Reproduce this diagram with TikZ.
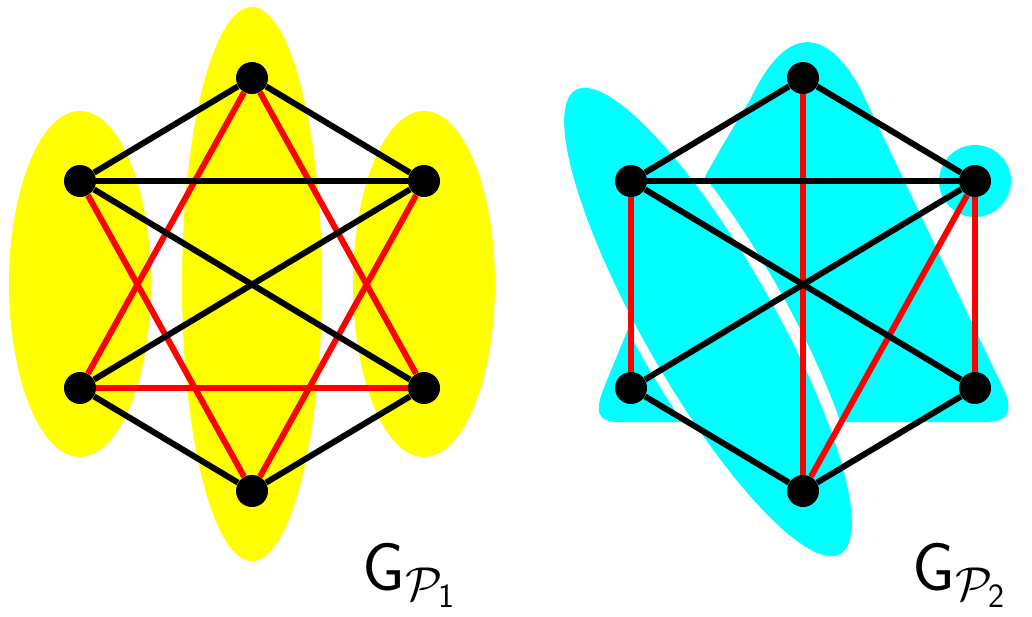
\RequirePackage{fix-cm}
\documentclass[tikz,border=0pt]{standalone}
\usepackage{fontspec}
\definecolor{yel}{RGB}{255,255,0}
\definecolor{cya}{RGB}{0,255,255}
\definecolor{rd}{RGB}{255,0,0}
\tikzset{
  vtx/.style={circle, fill=black, inner sep=0pt, minimum size=16pt},
  bedge/.style={line width=3pt, black},
  redge/.style={line width=3pt, rd},
  glabel/.style={anchor=base west, inner sep=0pt, font=\fontsize{34}{40}\selectfont}
}
\begin{document}
\begin{tikzpicture}[x=0.5pt, y=-0.5pt]
\fill[white] (0,0) rectangle (1032,616);
\useasboundingbox (0,0) rectangle (1032,616);
% ---------- left: yellow parts ----------
\fill[yel] (80,284) ellipse [x radius=35.5pt, y radius=86.5pt];
\fill[yel] (252,284) ellipse [x radius=35pt, y radius=138.5pt];
\fill[yel] (424,284) ellipse [x radius=35.5pt, y radius=86.5pt];
% ---------- right: cyan parts ----------
\fill[cya] (620,422) -- (985,422) .. controls (1010,422) and (1012,410) .. (1005,392)
  -- (860,88) .. controls (825,25) and (785,25) .. (750,100)
  .. controls (725,140) and (690,200) .. (640,300)
  -- (605,385) .. controls (595,410) and (595,422) .. (620,422) -- cycle;
\begin{scope}[shift={(710,322)}, rotate=-60.3]
  \fill[white] (0,0) ellipse [x radius=139pt, y radius=38pt];
\end{scope}
\begin{scope}[shift={(708,322)}, rotate=-60.3]
  \fill[cya] (0,0) ellipse [x radius=133.5pt, y radius=32.5pt];
\end{scope}
\fill[cya] (975,181) circle [radius=18pt];
% ---------- left graph ----------
\node[vtx] (aT)  at (252,78)  {};
\node[vtx] (aL)  at (80,181)  {};
\node[vtx] (aR)  at (424,181) {};
\node[vtx] (aBL) at (80,388)  {};
\node[vtx] (aBR) at (424,388) {};
\node[vtx] (aB)  at (252,491) {};
\draw[redge] (aT) -- (aBL);
\draw[redge] (aT) -- (aBR);
\draw[redge] (aL) -- (aB);
\draw[redge] (aR) -- (aB);
\draw[redge] (aBL) -- (aBR);
\draw[bedge] (aT) -- (aL);
\draw[bedge] (aT) -- (aR);
\draw[bedge] (aL) -- (aR);
\draw[bedge] (aL) -- (aBR);
\draw[bedge] (aR) -- (aBL);
\draw[bedge] (aBL) -- (aB);
\draw[bedge] (aBR) -- (aB);
% ---------- right graph ----------
\node[vtx] (bT)  at (803,78)  {};
\node[vtx] (bL)  at (631,181) {};
\node[vtx] (bR)  at (975,181) {};
\node[vtx] (bBL) at (631,388) {};
\node[vtx] (bBR) at (975,388) {};
\node[vtx] (bB)  at (803,491) {};
\draw[redge] (bT) -- (bB);
\draw[redge] (bL) -- (bBL);
\draw[redge] (bR) -- (bBR);
\draw[redge] (bR) -- (bB);
\draw[bedge] (bT) -- (bL);
\draw[bedge] (bT) -- (bR);
\draw[bedge] (bL) -- (bR);
\draw[bedge] (bL) -- (bBR);
\draw[bedge] (bR) -- (bBL);
\draw[bedge] (bBL) -- (bB);
\draw[bedge] (bBR) -- (bB);
% ---------- labels ----------
\node[glabel] (lab1) at (362,590) {$\mathsf{G}_{\mathcal{P}_{\mathsf{1}}}$};
\node[glabel] (lab2) at (912,590) {$\mathsf{G}_{\mathcal{P}_{\mathsf{2}}}$};
\end{tikzpicture}
\end{document}
